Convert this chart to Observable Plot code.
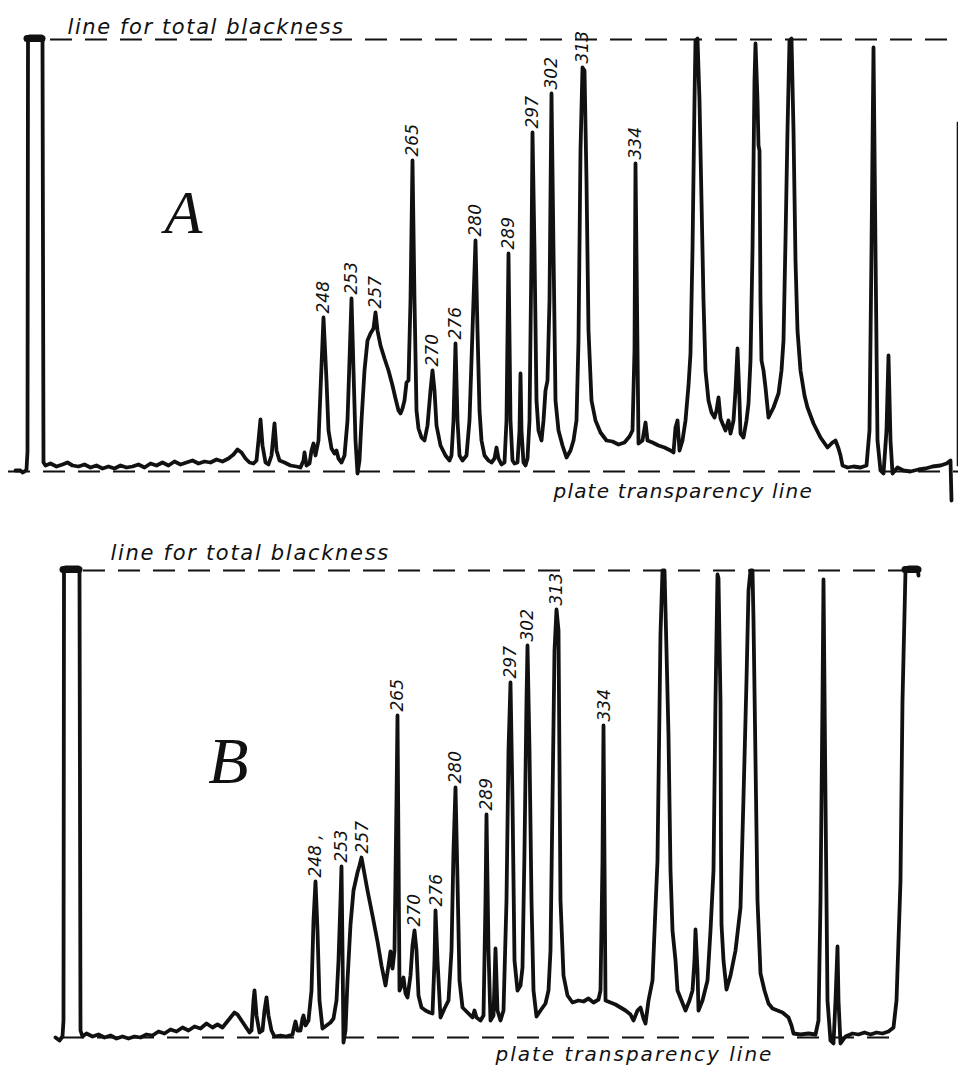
<!DOCTYPE html>
<html><head><meta charset="utf-8">
<script src="https://cdn.jsdelivr.net/npm/d3@7"></script>
<script src="https://cdn.jsdelivr.net/npm/@observablehq/plot@0.6"></script>
<style>
html,body{margin:0;padding:0;background:#fff;overflow:hidden;width:958px;height:1067px}
#chart svg{display:block}
</style></head><body><div id="chart"></div>
<script>
// Microphotometer traces: [plate position, pen deflection above the plate-transparency line]
// Total blackness level of each record (deflection units)
const blackA = 432;
const blackB = 467;

const traceA = [
[15,1],[20,1],[22,-1],[24,0],[26,2],[27,20],[27.5,431],[29,435],[41,435],[42,431],[43,9],[45,6],
[50,8],[56,5],[62,7],[67,9],[72,6],[78,5],[84,7],[90,4],[96,6],[102,3],[108,5],[114,3],[120,6],[126,4],
[132,5],[138,7],[144,4],[150,8],[156,6],[162,9],[168,6],[174,10],[180,7],[186,9],[192,11],[198,8],[204,10],
[210,9],[216,12],[222,10],[228,13],[233,17],[237,22],[241,19],[245,13],[249,9],[253,8],[256,11],[258,31],
[260,52],[262,26],[265,9],[268,7],[271,16],[274,48],[276,21],[279,11],[284,9],[290,6],[296,5],[300,4],
[303,11],[304,19],[306,6],[309,8],[311,21],[313,28],[315,16],[318,31],[320,81],[323,154],[326,91],[328,41],
[331,23],[334,18],[336,21],[338,13],[341,9],[344,16],[347,51],[349,111],[351,173],[353,101],[355,31],[357,-2],
[359,11],[361,51],[364,101],[367,131],[370,138],[373,143],[375,159],[377,141],[380,126],[384,113],[388,101],
[392,86],[395,73],[398,61],[400,58],[402,63],[404,71],[406,89],[408,91],[410,171],[412,311],[414,171],[416,61],
[418,43],[421,34],[424,31],[427,46],[430,81],[432,101],[434,81],[436,46],[440,26],[445,16],[449,11],[451,16],
[453,51],[455,128],[457,51],[459,16],[462,11],[466,16],[469,51],[472,141],[475,231],[477,141],[479,61],[481,31],
[484,16],[488,11],[491,9],[494,13],[496,24],[498,13],[501,7],[504,9],[506,51],[508,218],[510,51],[512,11],
[514,8],[517,9],[519,41],[520,98],[521,41],[523,9],[525,6],[527,13],[529,51],[531,221],[532,339],[534,221],
[536,71],[538,41],[541,31],[543,51],[545,81],[547,91],[549,171],[551,378],[553,221],[555,71],[558,41],[562,26],
[566,14],[570,21],[573,31],[576,51],[578,131],[580,321],[582,404],[584,401],[586,291],[588,141],[591,71],
[595,51],[600,39],[606,31],[612,30],[618,27],[624,29],[629,35],[632,41],[634,121],[635,308],[637,121],[638,28],
[642,31],[645,49],[647,31],[652,29],[658,26],[664,24],[670,21],[673,19],[675,44],[677,51],[679,21],[682,31],
[685,51],[688,86],[690,118],[692,221],[694,371],[695,431],[697,433],[699,371],[701,271],[703,171],[705,101],
[708,71],[711,59],[714,54],[716,61],[718,74],[720,53],[722,48],[725,41],[728,51],[730,38],[733,51],[735,81],
[737,123],[739,71],[740,38],[743,34],[746,51],[748,68],[750,111],[752,221],[754,391],[755,428],[757,371],
[758,326],[759,321],[760,171],[761,111],[763,101],[765,84],[768,54],[773,64],[778,78],[781,101],[783,131],
[785,231],[787,341],[789,431],[791,433],[793,341],[795,211],[797,141],[800,101],[804,76],[807,64],[813,48],
[820,34],[827,24],[832,29],[835,31],[838,23],[840,16],[842,6],[847,4],[853,5],[860,4],[866,6],[869,41],
[871,221],[873,424],[875,221],[877,31],[880,1],[883,-2],[886,41],[888,116],[890,31],[892,-2],[897,4],[903,1],
[910,0],[918,2],[925,3],[932,5],[940,6],[946,8],[950,11],[951,-29]
];

const traceB = [
[55,0],[59,-3],[62,1],[63,17],[63.5,465],[65,470],[78,470],[79,465],[80,7],[82,1],
[86,4],[92,1],[98,3],[104,0],[110,2],[116,-1],[122,1],[128,-1],[134,1],[140,0],[146,3],[152,2],[158,6],
[164,4],[170,8],[176,6],[182,10],[188,7],[194,11],[200,9],[206,14],[212,10],[217,13],[222,10],[226,15],
[230,20],[234,25],[237,23],[241,17],[245,11],[249,5],[251,7],[253,37],[254,47],[256,22],[259,5],[262,7],
[264,27],[266,40],[268,22],[271,7],[274,1],[280,2],[286,1],[292,3],[294,12],[295,16],[297,7],[300,7],
[302,19],[303,22],[305,12],[308,17],[311,47],[313,117],[315,156],[317,107],[319,37],[322,9],[326,12],
[330,15],[333,19],[336,37],[338,77],[340,137],[341,171],[342,87],[343,-5],[345,7],[347,57],[350,113],
[353,147],[357,165],[359,172],[361,180],[363,169],[367,147],[372,122],[377,96],[381,72],[385,52],[388,72],
[390,86],[392,69],[394,87],[396,237],[397,322],[398,187],[399,47],[401,52],[403,60],[405,44],[407,40],
[410,62],[412,92],[414,107],[416,87],[418,42],[421,30],[425,27],[429,25],[432,24],[434,77],[435,127],
[437,77],[440,20],[444,29],[448,37],[451,87],[453,187],[455,250],[457,157],[459,57],[462,30],[467,25],
[472,20],[474,27],[476,20],[480,17],[483,22],[485,137],[486,223],[488,87],[490,17],[493,22],[495,89],
[497,27],[500,17],[503,27],[506,137],[508,287],[510,355],[512,237],[514,77],[517,47],[520,52],[522,70],
[524,187],[526,337],[527,392],[529,287],[531,137],[533,47],[536,21],[540,27],[545,34],[548,47],[550,87],
[552,237],[554,387],[556,428],[558,407],[560,137],[563,62],[567,42],[572,35],[578,37],[583,36],[588,39],
[593,35],[598,38],[600,47],[602,177],[603,312],[604,177],[605,37],[610,35],[615,33],[620,30],[625,27],
[630,23],[633,17],[637,27],[640,30],[643,19],[645,14],[648,37],[652,57],[655,130],[657,177],[660,404],
[662,467],[664,467],[666,387],[668,302],[670,167],[672,107],[675,77],[677,47],[681,37],[685,27],[689,37],
[692,47],[694,77],[695,108],[697,67],[698,27],[702,37],[707,57],[710,107],[713,167],[715,337],[717,463],
[718,459],[719,397],[720,336],[720.5,187],[721,113],[723,77],[726,48],[730,62],[735,87],[740,130],[743,240],
[746,357],[748,447],[750,467],[752,467],[753,417],[755,277],[757,137],[760,64],[764,47],[768,34],[772,29],
[777,27],[782,25],[788,20],[791,12],[793,4],[800,3],[808,4],[815,3],[818,17],[820,137],[822,337],[823,458],
[825,237],[827,37],[830,-3],[833,-6],[835,37],[837,91],[838,37],[840,-6],[845,1],[852,4],[858,3],[864,5],
[870,3],[876,5],[882,4],[888,6],[893,10],[896,37],[898,97],[900,157],[902,337],[905,467],[908,470],
[917,470],[918,462]
];

// Edge of the next calibration pulse on record A
const edgeA = [[957, 6], [957, 349]];
// Inked tops of the calibration pulses: [x1, x2]
const pulseTopsA = [[27, 42]];
const pulseTopsB = [[63, 79], [905, 918]];

// Line identifications (wavelengths) with their peak positions and heights
const labelsA = ["248","253","257","265","270","276","280","289","297","302","313","334"];
const labelXA = [323,351,375,412,432,455,475,508,532,551,582,635];
const labelVA = [154,173,159,311,101,128,231,218,339,378,404,308];

const labelsB = ["248 ,","253","257","265","270","276","280","289","297","302","313","334"];
const labelXB = [315,341,362,397,414,436,455,486,510,527,556,604];
const labelVB = [156,171,180,322,107,127,250,223,355,392,428,312];

const topText = "line for total blackness";
const baseText = "plate transparency line";

const DASH = "22,13";
const INK = "#111";

function panel(o) {
  const labelData = o.labels.map((t, i) => ({t, x: o.lx[i], v: o.lv[i]}));
  const marks = [
    Plot.ruleY([o.black], {x1: o.topX1, x2: o.topX2, stroke: INK, strokeWidth: 2.2, strokeDasharray: DASH}),
    Plot.ruleY([0], {x1: o.baseX1, x2: o.baseX2, stroke: INK, strokeWidth: 2.2, strokeDasharray: DASH}),
    Plot.ruleY(o.tops, {x1: d => d[0], x2: d => d[1], y: o.black, dy: -1, stroke: INK, strokeWidth: 7, strokeLinecap: "round"}),
    Plot.line(o.trace, {stroke: INK, strokeWidth: 3.8, strokeLinejoin: "round", strokeLinecap: "round"}),
    Plot.text(labelData, {x: "x", y: "v", text: "t", rotate: -90, textAnchor: "start", lineAnchor: "middle",
      dy: -4, fontSize: 17, fontStyle: "italic", fontFamily: "DejaVu Sans", fill: INK}),
    Plot.text([topText], {x: o.topTextX, y: o.black, dy: o.topTextDy, text: d => d, textAnchor: "start",
      lineAnchor: "middle", fontSize: 21, fontStyle: "italic", fontFamily: "DejaVu Sans", fill: INK}),
    Plot.text([baseText], {x: o.baseTextX, y: 0, dy: o.baseTextDy, text: d => d, textAnchor: "start",
      lineAnchor: "middle", fontSize: 20, fontStyle: "italic", fontFamily: "DejaVu Sans", fill: INK}),
    Plot.text([o.letter], {x: o.letterX, y: o.letterV, text: d => d, lineAnchor: "middle",
      fontSize: o.letterSize, fontStyle: "italic", fontFamily: "Liberation Serif", fill: INK})
  ];
  if (o.extra) marks.push(...o.extra);
  const svg = Plot.plot({
    width: 958, height: o.height,
    marginTop: o.marginTop, marginBottom: o.marginBottom, marginLeft: 0, marginRight: 0,
    x: {domain: [0, 958], axis: null},
    y: {domain: [0, o.black], axis: null},
    style: {background: "white", overflow: "visible"},
    marks
  });
  d3.select(svg).selectAll("text").filter(function() { return this.textContent === topText; })
    .attr("letter-spacing", o.topSpacing);
  d3.select(svg).selectAll("text").filter(function() { return this.textContent === baseText; })
    .attr("letter-spacing", o.baseSpacing);
  return svg;
}

const chart = document.getElementById("chart");
chart.append(panel({
  trace: traceA, black: blackA, height: 505, marginTop: 39, marginBottom: 34,
  labels: labelsA, lx: labelXA, lv: labelVA, tops: pulseTopsA,
  topX1: 50, topX2: 958, baseX1: 8, baseX2: 958,
  topTextX: 67, topTextDy: -12.7, topSpacing: "1.6px",
  baseTextX: 553, baseTextDy: 19.6, baseSpacing: "1.2px",
  letter: "A", letterX: 183, letterV: 258, letterSize: 62,
  extra: [Plot.line(edgeA, {stroke: INK, strokeWidth: 1.6})]
}));
chart.append(panel({
  trace: traceB, black: blackB, height: 562, marginTop: 65, marginBottom: 30,
  labels: labelsB, lx: labelXB, lv: labelVB, tops: pulseTopsB,
  topX1: 83, topX2: 905, baseX1: 62, baseX2: 900,
  topTextX: 110, topTextDy: -17.7, topSpacing: "1.7px",
  baseTextX: 495, baseTextDy: 17.3, baseSpacing: "2px",
  letter: "B", letterX: 228, letterV: 276, letterSize: 66
}));
</script></body></html>
